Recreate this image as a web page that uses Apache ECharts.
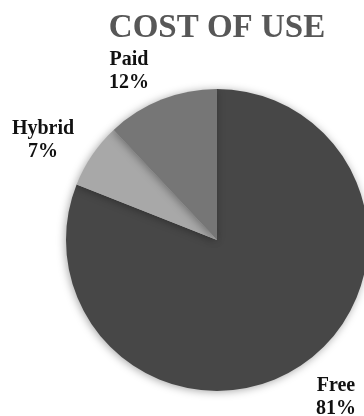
<!DOCTYPE html>
<html>
<head>
<meta charset="utf-8">
<script src="https://cdn.jsdelivr.net/npm/echarts@6/dist/echarts.min.js"></script>
<style>
  html, body { margin: 0; padding: 0; background: #fff; }
  #chart { width: 364px; height: 416px; }
</style>
</head>
<body>
<div id="chart"></div>
<script>
// Cost of use breakdown (percent of tools)
const categories = ['Free', 'Hybrid', 'Paid'];
const shares = [81, 7, 12];
const sliceColors = ['#474747', '#a8a8a8', '#767676'];

// Label anchor points (centre of each two-line label)
const labelSpots = [
  { x: 336, y: 397 },
  { x: 43, y: 140 },
  { x: 129, y: 71 }
];

const chart = echarts.init(document.getElementById('chart'), null, { renderer: 'canvas' });

chart.setOption({
  animation: false,
  backgroundColor: '#ffffff',
  title: {
    text: 'COST OF USE',
    left: 212,
    top: 7,
    textAlign: 'center',
    textStyle: {
      fontFamily: '"Liberation Serif", "Times New Roman", serif',
      fontWeight: 'bold',
      fontSize: 33,
      color: '#575757'
    }
  },
  series: [{
    type: 'pie',
    center: [217, 240],
    radius: [0, 151],
    startAngle: 90,
    clockwise: true,
    percentPrecision: 0,
    avoidLabelOverlap: false,
    itemStyle: {
      shadowBlur: 8,
      shadowColor: 'rgba(0,0,0,0.35)',
      shadowOffsetX: -1,
      shadowOffsetY: 1
    },
    label: {
      show: true,
      position: 'outside',
      formatter: '{b}\n{d}%',
      fontFamily: '"Liberation Serif", "Times New Roman", serif',
      fontWeight: 'bold',
      fontSize: 20,
      lineHeight: 23,
      color: '#111111',
      align: 'center'
    },
    labelLine: { show: false },
    labelLayout: function (params) {
      const spot = labelSpots[params.dataIndex];
      return {
        x: spot.x,
        y: spot.y,
        align: 'center',
        verticalAlign: 'middle'
      };
    },
    data: categories.map((name, i) => ({
      name: name,
      value: shares[i],
      itemStyle: { color: sliceColors[i] }
    }))
  }]
});
</script>
</body>
</html>
